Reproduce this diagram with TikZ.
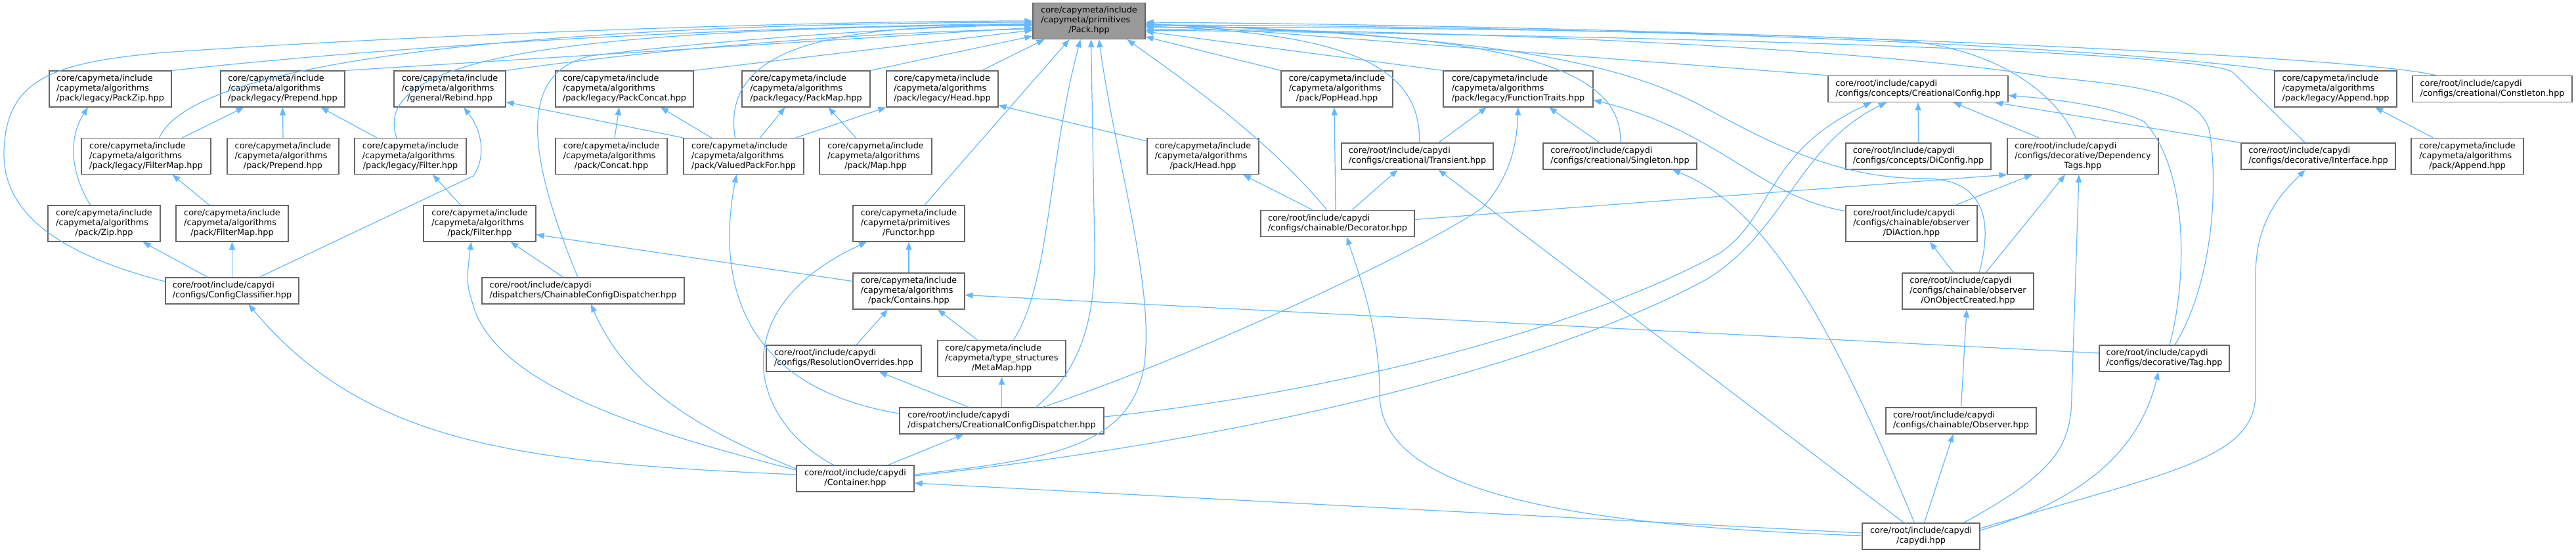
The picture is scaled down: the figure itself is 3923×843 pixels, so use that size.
\documentclass[tikz,border=0pt]{standalone}
\usepackage{fontspec}
\setmainfont{DejaVu Sans}
\usetikzlibrary{arrows.meta}

\definecolor{edgeblue}{HTML}{63B8FF}
\definecolor{boxline}{HTML}{666666}
\definecolor{packgray}{HTML}{999999}

% file labels: left lines, last line centred
\newcommand{\fileiii}[3]{\begin{tabular}{@{}l@{}}#1\\#2\\\multicolumn{1}{@{}c@{}}{#3}\end{tabular}}
\newcommand{\fileii}[2]{\begin{tabular}{@{}l@{}}#1\\\multicolumn{1}{@{}c@{}}{#2}\end{tabular}}

\tikzset{
    incfile/.style={draw=boxline, fill=white, line width=1.2pt, inner sep=0pt,
        font=\fontsize{12.8}{15}\selectfont},
    f3/.style={incfile, minimum width=#1, minimum height=55pt},
    f2/.style={incfile, minimum width=#1, minimum height=40pt},
    dep/.style={draw=edgeblue, line width=1.2pt, -{Triangle[length=12pt,width=9pt]}},
}

\begin{document}
\begin{tikzpicture}[x=1pt,y=-1pt]
    \useasboundingbox (0,0) rectangle (3923,843);

    % files
    \node[f3=171pt, fill=packgray] (pack) at (1658.5,32) {\fileiii{core/capymeta/include}{/capymeta/primitives}{/Pack.hpp}};

    \node[f3=186pt] (legPackZip) at (168,135.5) {\fileiii{core/capymeta/include}{/capymeta/algorithms}{/pack/legacy/PackZip.hpp}};
    \node[f3=189pt] (legPrepend) at (430.5,135.5) {\fileiii{core/capymeta/include}{/capymeta/algorithms}{/pack/legacy/Prepend.hpp}};
    \node[f3=170pt] (rebind) at (685,135.5) {\fileiii{core/capymeta/include}{/capymeta/algorithms}{/general/Rebind.hpp}};
    \node[f3=210pt] (legPackConcat) at (951,135.5) {\fileiii{core/capymeta/include}{/capymeta/algorithms}{/pack/legacy/PackConcat.hpp}};
    \node[f3=195pt] (legPackMap) at (1227.5,135.5) {\fileiii{core/capymeta/include}{/capymeta/algorithms}{/pack/legacy/PackMap.hpp}};
    \node[f3=170pt] (legHead) at (1435,135.5) {\fileiii{core/capymeta/include}{/capymeta/algorithms}{/pack/legacy/Head.hpp}};
    \node[f3=170pt] (popHead) at (2036,135.5) {\fileiii{core/capymeta/include}{/capymeta/algorithms}{/pack/PopHead.hpp}};
    \node[f3=228pt] (funcTraits) at (2312,135.5) {\fileiii{core/capymeta/include}{/capymeta/algorithms}{/pack/legacy/FunctionTraits.hpp}};
    \node[f2=274pt] (creatConfig) at (2921,135.5) {\fileii{core/root/include/capydi}{/configs/concepts/CreationalConfig.hpp}};
    \node[f3=186pt] (legAppend) at (3557,135.5) {\fileiii{core/capymeta/include}{/capymeta/algorithms}{/pack/legacy/Append.hpp}};
    \node[f2=243pt] (constleton) at (3795.5,135.5) {\fileii{core/root/include/capydi}{/configs/creational/Constleton.hpp}};

    \node[f3=197pt] (legFilterMap) at (222.5,238) {\fileiii{core/capymeta/include}{/capymeta/algorithms}{/pack/legacy/FilterMap.hpp}};
    \node[f3=170pt] (prepend) at (431,238) {\fileiii{core/capymeta/include}{/capymeta/algorithms}{/pack/Prepend.hpp}};
    \node[f3=170pt] (legFilter) at (625,238) {\fileiii{core/capymeta/include}{/capymeta/algorithms}{/pack/legacy/Filter.hpp}};
    \node[f3=170pt] (concat) at (931,238) {\fileiii{core/capymeta/include}{/capymeta/algorithms}{/pack/Concat.hpp}};
    \node[f3=183pt] (valuedPackFor) at (1132.5,238) {\fileiii{core/capymeta/include}{/capymeta/algorithms}{/pack/ValuedPackFor.hpp}};
    \node[f3=171pt] (map) at (1333.5,238) {\fileiii{core/capymeta/include}{/capymeta/algorithms}{/pack/Map.hpp}};
    \node[f3=170pt] (head) at (1832,238) {\fileiii{core/capymeta/include}{/capymeta/algorithms}{/pack/Head.hpp}};
    \node[f2=231pt] (transient) at (2158.5,238) {\fileii{core/root/include/capydi}{/configs/creational/Transient.hpp}};
    \node[f2=234pt] (singleton) at (2467,238) {\fileii{core/root/include/capydi}{/configs/creational/Singleton.hpp}};
    \node[f2=221pt] (diConfig) at (2921.5,238) {\fileii{core/root/include/capydi}{/configs/concepts/DiConfig.hpp}};
    \node[f3=230pt] (depTags) at (3172,238) {\fileiii{core/root/include/capydi}{/configs/decorative/Dependency}{Tags.hpp}};
    \node[f2=235pt] (interface) at (3530.5,238) {\fileii{core/root/include/capydi}{/configs/decorative/Interface.hpp}};
    \node[f3=171pt] (append) at (3757.5,238) {\fileiii{core/capymeta/include}{/capymeta/algorithms}{/pack/Append.hpp}};

    \node[f3=171pt] (zip) at (158.5,340.5) {\fileiii{core/capymeta/include}{/capymeta/algorithms}{/pack/Zip.hpp}};
    \node[f3=171pt] (filterMap) at (353.5,340.5) {\fileiii{core/capymeta/include}{/capymeta/algorithms}{/pack/FilterMap.hpp}};
    \node[f3=171pt] (filter) at (730.5,340.5) {\fileiii{core/capymeta/include}{/capymeta/algorithms}{/pack/Filter.hpp}};
    \node[f3=170pt] (functor) at (1384,340.5) {\fileiii{core/capymeta/include}{/capymeta/primitives}{/Functor.hpp}};
    \node[f2=234pt] (decorator) at (2037,340.5) {\fileii{core/root/include/capydi}{/configs/chainable/Decorator.hpp}};
    \node[f3=200pt] (diAction) at (2911,340.5) {\fileiii{core/root/include/capydi}{/configs/chainable/observer}{/DiAction.hpp}};

    \node[f2=203pt] (configClassifier) at (353.5,443) {\fileii{core/root/include/capydi}{/configs/ConfigClassifier.hpp}};
    \node[f2=308pt] (chainDispatcher) at (888,443) {\fileii{core/root/include/capydi}{/dispatchers/ChainableConfigDispatcher.hpp}};
    \node[f3=170pt] (contains) at (1384,443.5) {\fileiii{core/capymeta/include}{/capymeta/algorithms}{/pack/Contains.hpp}};
    \node[f3=200pt] (onObjCreated) at (2997,443.5) {\fileiii{core/root/include/capydi}{/configs/chainable/observer}{/OnObjectCreated.hpp}};

    \node[f2=236pt] (resOverrides) at (1285,546) {\fileii{core/root/include/capydi}{/configs/ResolutionOverrides.hpp}};
    \node[f3=195pt] (metaMap) at (1525.5,546) {\fileiii{core/capymeta/include}{/capymeta/type\_structures}{/MetaMap.hpp}};
    \node[f2=198pt] (tag) at (3296,546) {\fileii{core/root/include/capydi}{/configs/decorative/Tag.hpp}};

    \node[f2=311pt] (creatDispatcher) at (1525.5,641) {\fileii{core/root/include/capydi}{/dispatchers/CreationalConfigDispatcher.hpp}};
    \node[f2=229pt] (observer) at (2986.5,641) {\fileii{core/root/include/capydi}{/configs/chainable/Observer.hpp}};

    \node[f2=179pt] (container) at (1302.5,729) {\fileii{core/root/include/capydi}{/Container.hpp}};
    \node[f2=179pt] (capydi) at (2925.5,817) {\fileii{core/root/include/capydi}{/capydi.hpp}};

    % includes of Pack.hpp, left side
    \draw[dep] ([yshift=14pt]configClassifier.west) .. controls (80,385) and (5,320) .. (6,233)
        .. controls (8,120) and (80,95) .. (250,80) .. controls (600,55) and (1200,32) .. (pack.west);
    \draw[dep] (legPackZip.north east) .. controls (700,60) and (1200,40) .. ([yshift=-4pt]pack.west);
    \draw[dep] ([xshift=20pt]legFilterMap.north) .. controls (310,60) and (1100,35) .. ([yshift=-2pt]pack.west);
    \draw[dep] (legPrepend.north east) -- ([yshift=-10pt]pack.west);
    \draw[dep] ([xshift=-21pt]legFilter.north) .. controls (560,80) and (900,45) .. ([yshift=-5pt]pack.west);
    \draw[dep] (rebind.north east) .. controls (1000,75) and (1300,50) .. ([yshift=-12pt]pack.west);
    \draw[dep] ([xshift=-8pt]chainDispatcher.north) .. controls (800,230) and (790,110) .. (900,85)
        .. controls (1100,60) and (1400,40) .. ([yshift=-6pt]pack.west);
    \draw[dep] (legPackConcat.north east) -- ([yshift=-14pt]pack.west);
    \draw[dep] ([xshift=-13pt]valuedPackFor.north) .. controls (1095,60) and (1300,38) .. ([yshift=-7pt]pack.west);
    \draw[dep] (legPackMap.north east) -- ([yshift=-23pt]pack.west);

    % includes of Pack.hpp, below
    \draw[dep] ([xshift=60pt]legHead.north) -- ([xshift=-68pt]pack.south);
    \draw[dep] ([xshift=24pt]functor.north) -- ([xshift=-30pt]pack.south);
    \draw[dep] ([xshift=18pt]metaMap.north) .. controls (1600,430) and (1595,250) .. ([xshift=-13pt]pack.south);
    \draw[dep] ([xshift=52pt]creatDispatcher.north) .. controls (1650,560) and (1668,480) .. (1667,380)
        -- ([xshift=3pt]pack.south);
    \draw[dep] ([yshift=6pt]container.east) .. controls (1600,700) and (1720,680) .. (1742,560)
        .. controls (1760,440) and (1700,250) .. ([xshift=15pt]pack.south);
    \draw[dep] ([xshift=-16pt]decorator.north) .. controls (1930,210) and (1800,120) .. ([xshift=58pt]pack.south);

    % includes of Pack.hpp, right side
    \draw[dep] (popHead.north west) -- ([yshift=-24pt]pack.east);
    \draw[dep] (funcTraits.north west) -- ([yshift=-16pt]pack.east);
    \draw[dep] ([xshift=3pt]transient.north) .. controls (2165,100) and (2050,50) .. ([yshift=-8pt]pack.east);
    \draw[dep] ([xshift=1pt]singleton.north) .. controls (2470,100) and (2300,50) .. ([yshift=-6pt]pack.east);
    \draw[dep] (creatConfig.north west) -- ([yshift=-3pt]pack.east);
    \draw[dep] ([xshift=17pt]onObjCreated.north) .. controls (3040,320) and (3010,272) .. (2930,272)
        .. controls (2800,272) and (2700,220) .. (2602,167)
        .. controls (2480,100) and (2300,55) .. ([yshift=-5pt]pack.east);
    \draw[dep] ([xshift=-11pt]depTags.north) .. controls (3130,140) and (3040,75) .. (2900,62)
        .. controls (2700,50) and (2100,40) .. ([yshift=-10pt]pack.east);
    \draw[dep] ([xshift=16pt]tag.north) .. controls (3365,440) and (3380,300) .. (3365,200)
        .. controls (3350,140) and (3250,130) .. (3115,117)
        .. controls (2900,80) and (2300,45) .. ([yshift=-13pt]pack.east);
    \draw[dep] ([xshift=-20pt]interface.north) -- (3400,110)
        .. controls (3360,80) and (2600,55) .. ([yshift=-14pt]pack.east);
    \draw[dep] (legAppend.north west) .. controls (3200,70) and (2500,40) .. ([yshift=-6pt]pack.east);
    \draw[dep] ([xshift=-86pt]constleton.north) .. controls (3600,85) and (2600,40) .. ([yshift=-2pt]pack.east);

    % capymeta algorithms
    \draw[dep] ([xshift=-21pt]zip.north) .. controls (100,250) and (110,200) .. ([xshift=-34pt]legPackZip.south);
    \draw[dep] ([xshift=55pt]legFilterMap.north) -- ([xshift=-59pt]legPrepend.south);
    \draw[dep] (prepend.north) -- (legPrepend.south);
    \draw[dep] ([xshift=-51pt]legFilter.north) -- ([xshift=58pt]legPrepend.south);
    \draw[dep] ([xshift=-35pt]filterMap.north) -- ([xshift=40pt]legFilterMap.south);
    \draw[dep] ([xshift=-29pt]filter.north) -- ([xshift=34pt]legFilter.south);
    \draw[dep] (valuedPackFor.north west) -- ([yshift=-20pt]rebind.east);
    \draw[dep] ([xshift=-49pt]valuedPackFor.north) -- ([xshift=55pt]legPackConcat.south);
    \draw[dep] ([xshift=5pt]concat.north) -- ([xshift=-8pt]legPackConcat.south);
    \draw[dep] ([xshift=25pt]valuedPackFor.north) -- ([xshift=-32pt]legPackMap.south);
    \draw[dep] ([xshift=79pt]valuedPackFor.north) -- (legHead.south west);
    \draw[dep] ([xshift=-30pt]map.north) -- ([xshift=34pt]legPackMap.south);
    \draw[dep] ([yshift=23pt]head.west) -- ([yshift=-25pt]legHead.east);
    \draw[dep] (contains.north) -- (functor.south);
    \draw[dep] ([yshift=15pt]contains.west) -- ([yshift=-17pt]filter.east);
    \draw[dep] ([xshift=19pt]resOverrides.north) -- ([xshift=-32pt]contains.south);
    \draw[dep] ([xshift=-37pt]metaMap.north) -- ([xshift=44pt]contains.south);
    \draw[dep] ([xshift=-52pt]append.north) -- ([xshift=60pt]legAppend.south);

    % capydi configs and dispatchers
    \draw[dep] ([xshift=41pt]configClassifier.north) -- (721,268) .. controls (740,240) and (735,200) .. ([xshift=21pt]rebind.south);
    \draw[dep] ([xshift=-37pt]configClassifier.north) -- ([xshift=59pt]zip.south);
    \draw[dep] (configClassifier.north) -- (filterMap.south);
    \draw[dep] ([xshift=-30pt]chainDispatcher.north) -- ([xshift=47pt]filter.south);
    \draw[dep] ([xshift=-50pt]creatDispatcher.north) -- ([xshift=54pt]resOverrides.south);
    \draw[dep] (creatDispatcher.north) -- (metaMap.south);
    \draw[dep] ([yshift=11pt]creatDispatcher.west) .. controls (1130,590) and (1090,430) .. ([xshift=-11pt]valuedPackFor.south);
    \draw[dep] ([xshift=62pt]creatDispatcher.north) .. controls (1800,550) and (2150,390) .. (2257,317)
        .. controls (2300,270) and (2310,220) .. (funcTraits.south);
    \draw[dep] ([yshift=6pt]creatDispatcher.east) .. controls (2100,590) and (2450,480) .. (2620,385)
        .. controls (2700,330) and (2690,230) .. ([xshift=-71pt]creatConfig.south);

    % Container.hpp
    \draw[dep] ([yshift=13pt]container.west) .. controls (950,650) and (760,580) .. (722,470)
        .. controls (710,430) .. ([xshift=-13pt]filter.south);
    \draw[dep] ([yshift=15pt]container.west) .. controls (1050,650) and (950,580) .. ([xshift=12pt]chainDispatcher.south);
    \draw[dep] ([yshift=6pt]container.west) .. controls (800,705) and (560,680) .. ([xshift=25pt]configClassifier.south);
    \draw[dep] ([xshift=-33pt]container.north) .. controls (1140,640) and (1100,470) .. ([xshift=-64pt]functor.south);
    \draw[dep] ([xshift=50pt]container.north) -- ([xshift=-58pt]creatDispatcher.south);
    \draw[dep] ([yshift=4pt]container.east) .. controls (1900,670) and (2350,560) .. (2600,425)
        .. controls (2720,350) and (2740,220) .. ([xshift=-48pt]creatConfig.south);

    % chainable and decorative configs
    \draw[dep] ([xshift=-38pt]decorator.north) -- ([xshift=61pt]head.south);
    \draw[dep] ([xshift=-3pt]decorator.north) -- ([xshift=-4pt]popHead.south);
    \draw[dep] ([xshift=22pt]decorator.north) -- ([xshift=-30pt]transient.south);
    \draw[dep] ([yshift=6pt]decorator.east) -- (depTags.south west);
    \draw[dep] ([xshift=32pt]transient.north) -- ([xshift=-48pt]funcTraits.south);
    \draw[dep] ([xshift=-31pt]singleton.north) -- ([xshift=47pt]funcTraits.south);
    \draw[dep] ([yshift=19pt]diAction.west) .. controls (2680,300) and (2620,200) .. ([yshift=-17pt]funcTraits.east);
    \draw[dep] ([xshift=67pt]diAction.north) -- ([xshift=-77pt]depTags.south);
    \draw[dep] (diConfig.north) -- (creatConfig.south);
    \draw[dep] ([xshift=-67pt]depTags.north) -- ([xshift=54pt]creatConfig.south);
    \draw[dep] (interface.north west) -- ([xshift=117pt]creatConfig.south);
    \draw[dep] ([xshift=8pt]tag.north) .. controls (3330,430) and (3335,260) .. (3265,185)
        .. controls (3210,160) and (3120,150) .. ([yshift=-10pt]creatConfig.east);
    \draw[dep] ([yshift=8pt]tag.west) -- ([yshift=-6pt]contains.east);
    \draw[dep] ([xshift=-22pt]onObjCreated.north) -- ([xshift=28pt]diAction.south);
    \draw[dep] ([xshift=27pt]onObjCreated.north) -- ([xshift=-27pt]depTags.south);
    \draw[dep] (observer.north) -- ([xshift=-2pt]onObjCreated.south);

    % capydi.hpp
    \draw[dep] ([yshift=5pt]capydi.west) -- ([yshift=-7pt]container.east);
    \draw[dep] ([yshift=1pt]capydi.west) .. controls (2350,800) and (2101,740) .. (2101,600)
        .. controls (2101,500) and (2070,420) .. ([xshift=14pt]decorator.south);
    \draw[dep] ([xshift=-26pt]capydi.north) -- ([xshift=32pt]transient.south);
    \draw[dep] ([xshift=-10pt]capydi.north) .. controls (2800,520) and (2700,320) .. ([xshift=80pt]singleton.south);
    \draw[dep] ([xshift=5pt]capydi.north) -- ([xshift=-12pt]observer.south);
    \draw[dep] ([xshift=65pt]capydi.north) .. controls (3130,720) and (3155,680) .. (3155,600)
        -- ([xshift=-6pt]depTags.south);
    \draw[dep] ([yshift=9pt]capydi.east) .. controls (3180,760) and (3260,680) .. ([xshift=-9pt]tag.south);
    \draw[dep] ([yshift=12pt]capydi.east) .. controls (3300,720) and (3435,700) .. (3435,600) -- (3435,420)
        .. controls (3435,330) and (3480,290) .. ([xshift=-20pt]interface.south);
\end{tikzpicture}
\end{document}
